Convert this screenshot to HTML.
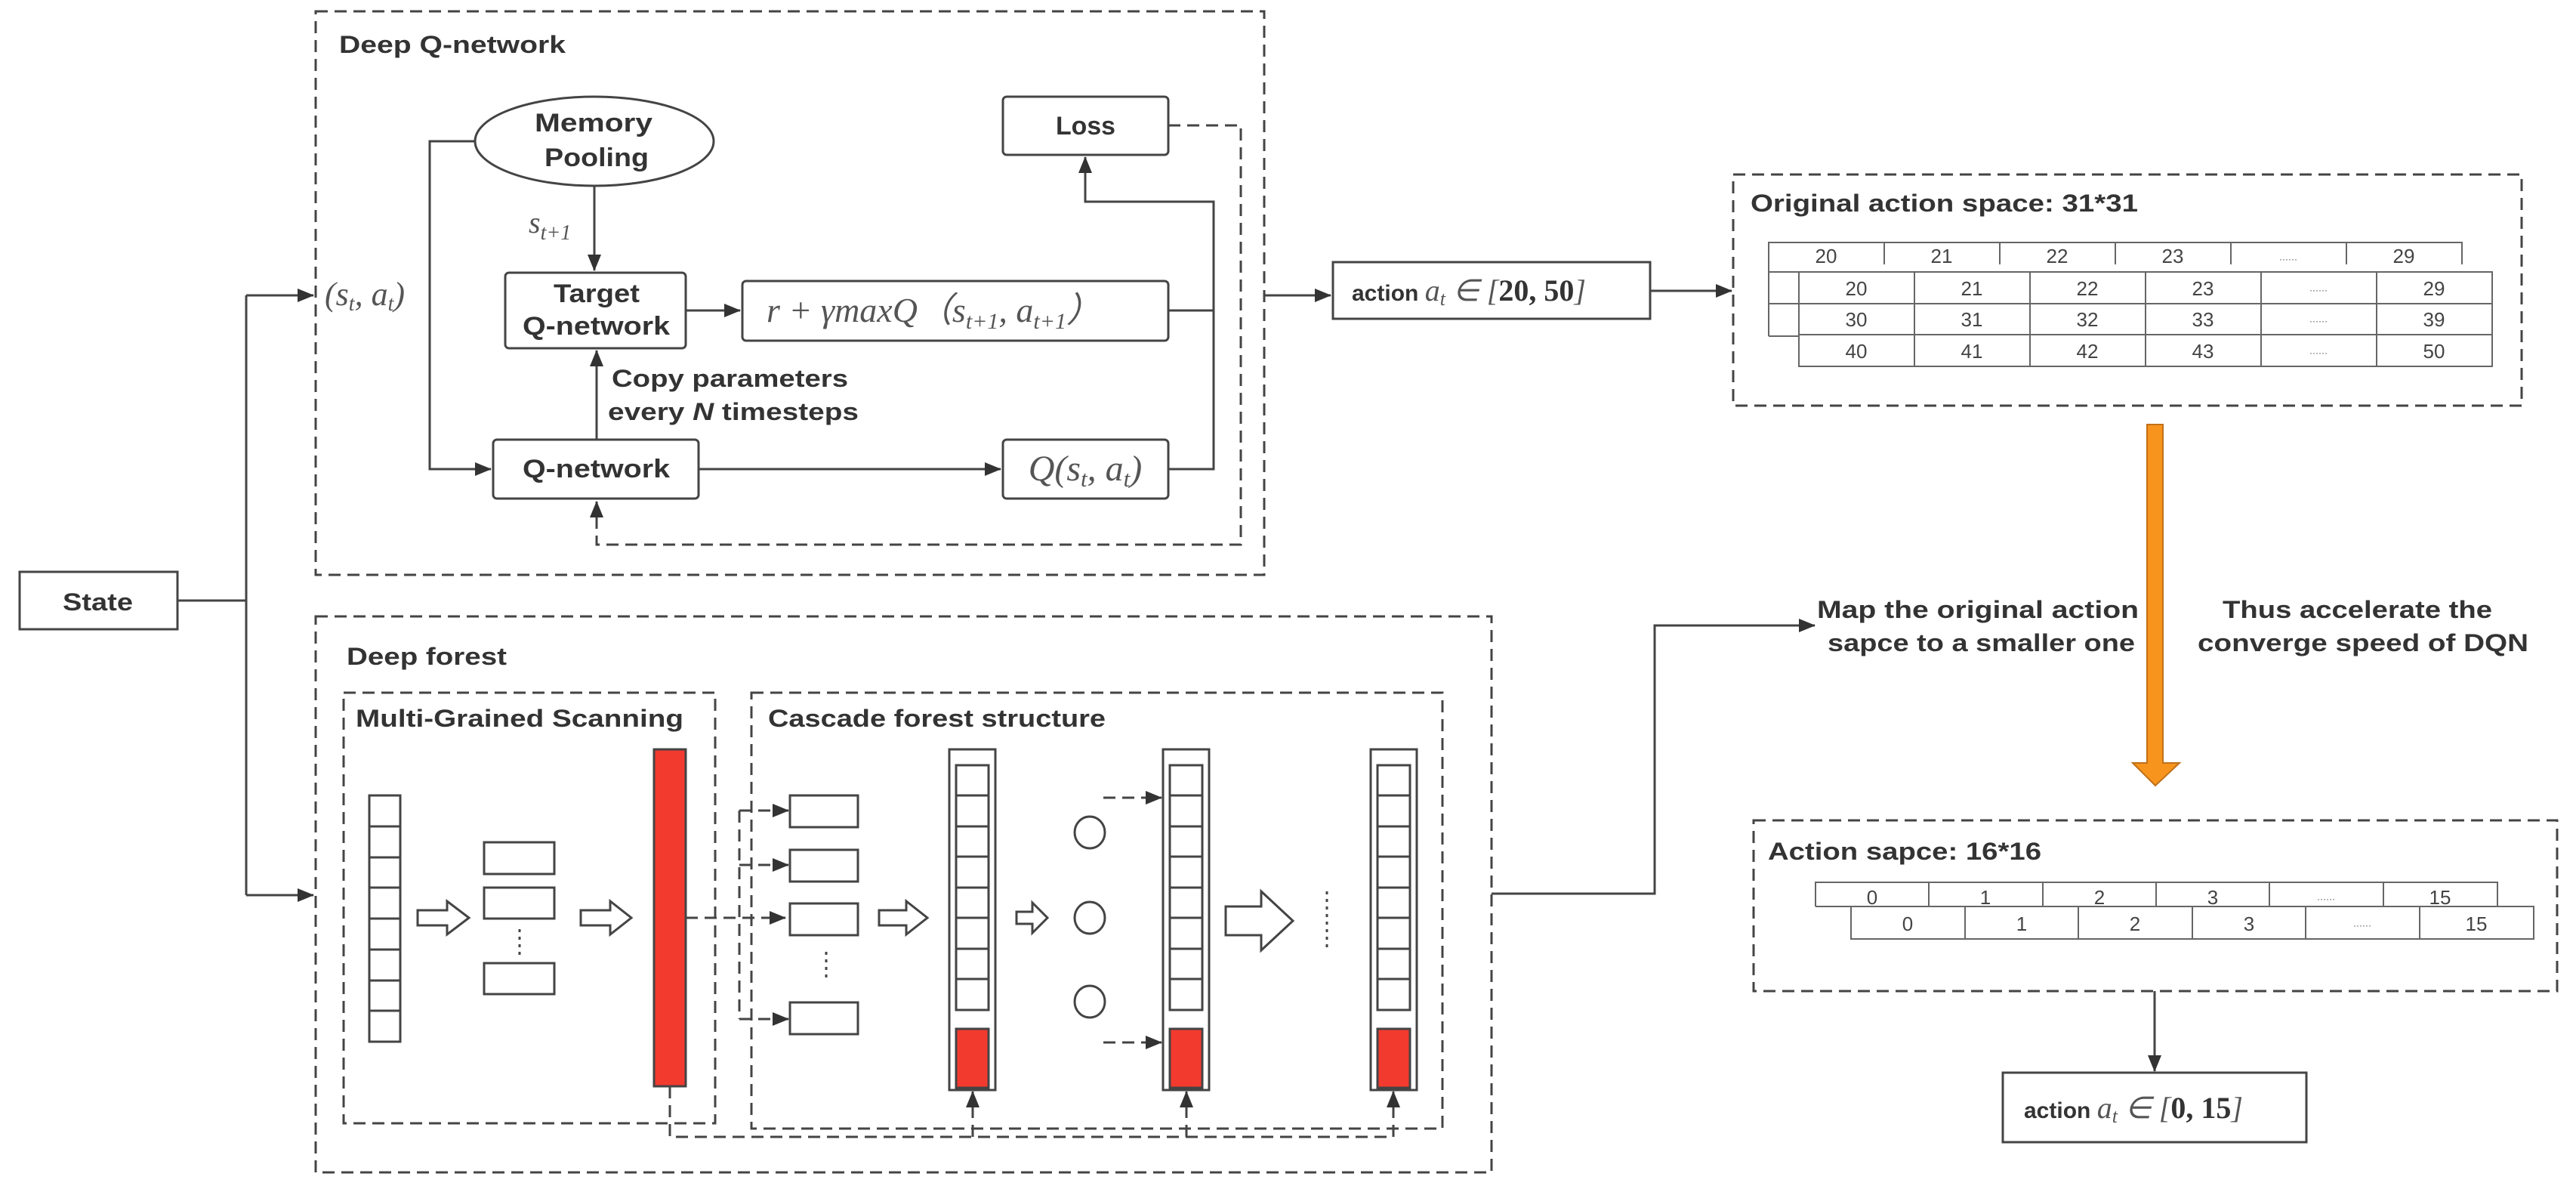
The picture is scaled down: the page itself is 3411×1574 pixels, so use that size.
<!DOCTYPE html>
<html><head><meta charset="utf-8"><style>
html,body{margin:0;padding:0;background:#fff;}
svg{display:block;}
.t{font-family:"Liberation Sans",sans-serif;font-weight:bold;fill:#333;}
.m{font-family:"Liberation Serif",serif;font-style:italic;fill:#555;}
.n{font-family:"Liberation Sans",sans-serif;fill:#444;font-size:26px;text-anchor:middle;}
</style></head><body>
<svg width="3411" height="1574" viewBox="0 0 3411 1574" xmlns="http://www.w3.org/2000/svg">
<defs>
<marker id="A" markerWidth="22" markerHeight="22" refX="21" refY="11" orient="auto" markerUnits="userSpaceOnUse" viewBox="0 0 22 22"><path d="M0,2 L22,11 L0,20 z" fill="#333"/></marker>
</defs>
<g fill="none" stroke="#444" stroke-width="3">
<g stroke-dasharray="16,9">
<rect x="418" y="15" width="1256" height="746"/>
<rect x="418" y="816" width="1557" height="736"/>
<rect x="455" y="917" width="492" height="570"/>
<rect x="995" y="917" width="915" height="577"/>
<rect x="2295" y="231" width="1044" height="306"/>
<rect x="2322" y="1086" width="1064" height="226"/>
<path d="M1547,166 H1643 V721 H790 V664" marker-end="url(#A)"/>
<path d="M887,1438 V1505 H1845"/>
<path d="M908,1215 H1040" marker-end="url(#A)"/>
<path d="M979,1073 V1349"/>
<path d="M979,1073 H1044" marker-end="url(#A)"/>
<path d="M979,1145 H1044" marker-end="url(#A)"/>
<path d="M979,1349 H1044" marker-end="url(#A)"/>
<path d="M1461,1056 H1538" marker-end="url(#A)"/>
<path d="M1461,1380 H1538" marker-end="url(#A)"/>
<path d="M1288,1505 V1445" marker-end="url(#A)"/>
<path d="M1571,1505 V1445" marker-end="url(#A)"/>
<path d="M1845,1505 V1445" marker-end="url(#A)"/>
</g>
<rect x="26" y="757" width="209" height="76"/>
<path d="M235,795 H326 M326,391 V1185"/>
<path d="M326,391 H415" marker-end="url(#A)"/>
<path d="M326,1185 H415" marker-end="url(#A)"/>
<ellipse cx="787" cy="187" rx="158" ry="59"/>
<rect x="1328" y="128" width="219" height="77" rx="5"/>
<rect x="669" y="361" width="239" height="100" rx="5"/>
<rect x="983" y="372" width="564" height="79" rx="5"/>
<rect x="653" y="582" width="272" height="78" rx="5"/>
<rect x="1328" y="582" width="219" height="78" rx="5"/>
<path d="M787,246 V358" marker-end="url(#A)"/>
<path d="M629,187 H569 V621 H650" marker-end="url(#A)"/>
<path d="M908,411 H980" marker-end="url(#A)"/>
<path d="M790,582 V464" marker-end="url(#A)"/>
<path d="M925,621 H1325" marker-end="url(#A)"/>
<path d="M1547,621 H1607 V267 H1437 V208" marker-end="url(#A)"/>
<path d="M1547,411 H1607"/>
<path d="M1674,391 H1762" marker-end="url(#A)"/>
<rect x="1765" y="347" width="420" height="75"/>
<path d="M2185,385 H2293" marker-end="url(#A)"/>
<rect x="489" y="1053" width="41" height="326"/>
<path d="M489,1094 H530 M489,1135 H530 M489,1175 H530 M489,1216 H530 M489,1257 H530 M489,1298 H530 M489,1338 H530"/>
<rect x="641" y="1115" width="93" height="42"/>
<rect x="641" y="1175" width="93" height="41"/>
<rect x="641" y="1275" width="93" height="41"/>
<rect x="866" y="992" width="42" height="446" fill="#f33a2f"/>
<rect x="1046" y="1053" width="90" height="42"/>
<rect x="1046" y="1125" width="90" height="42"/>
<rect x="1046" y="1196" width="90" height="42"/>
<rect x="1046" y="1327" width="90" height="42"/>
<ellipse cx="1443" cy="1102" rx="20" ry="21"/>
<ellipse cx="1443" cy="1215" rx="20" ry="21"/>
<ellipse cx="1443" cy="1326" rx="20" ry="21"/>
<g stroke-dasharray="4,6">
<path d="M688,1230 V1265 M1094,1260 V1300 M1757,1180 V1255"/>
</g>
<path d="M553,1205 H592 V1193 L621,1215 L592,1237 V1225 H553 Z"/>
<path d="M769,1205 H808 V1193 L836,1215 L808,1237 V1225 H769 Z"/>
<path d="M1164,1205 H1200 V1193 L1228,1215 L1200,1237 V1225 H1164 Z"/>
<path d="M1346,1207 H1367 V1195 L1387,1215 L1367,1235 V1223 H1346 Z"/>
<path d="M1623,1200 H1670 V1180 L1712,1219 L1670,1258 V1238 H1623 Z"/>
<g id="col">
<rect x="1257" y="992" width="61" height="451"/>
<rect x="1266" y="1013" width="43" height="324"/>
<path d="M1266,1053 H1309 M1266,1094 H1309 M1266,1134 H1309 M1266,1175 H1309 M1266,1215 H1309 M1266,1256 H1309 M1266,1296 H1309"/>
<rect x="1266" y="1362" width="43" height="78" fill="#f33a2f"/>
</g>
<use href="#col" x="283"/>
<use href="#col" x="558"/>
<path d="M1975,1183 H2191 V828 H2403" marker-end="url(#A)"/>
<g stroke-width="2" stroke="#666">
<path d="M2342,350 V321 H3260 V350 M2495,321 V350 M2648,321 V350 M2801,321 V350 M2954,321 V350 M3107,321 V350"/>
<path d="M2342,350 V445 M2342,360 H2382 M2342,402 H2382 M2342,445 H2382"/>
<rect x="2382" y="360" width="918" height="125" fill="#fff"/>
<path d="M2382,402 H3300 M2382,443 H3300 M2535,360 V485 M2688,360 V485 M2841,360 V485 M2994,360 V485 M3147,360 V485"/>
<path d="M2404,1200 V1168 H3307 V1200 M2554,1168 V1200 M2705,1168 V1200 M2855,1168 V1200 M3005,1168 V1200 M3156,1168 V1200 M2404,1200 H2451"/>
<rect x="2451" y="1200" width="904" height="43" fill="#fff"/>
<path d="M2602,1200 V1243 M2752,1200 V1243 M2903,1200 V1243 M3053,1200 V1243 M3204,1200 V1243"/>
</g>
<path d="M2843,562 H2864 V1010 H2886 L2854,1040 L2824,1010 H2843 Z" fill="#f7941d" stroke="#c0701a" stroke-width="2"/>
<path d="M2853,1312 V1418" marker-end="url(#A)"/>
<rect x="2652" y="1420" width="402" height="92"/>
</g>
<text class="t" x="83" y="808" font-size="32" textLength="93" lengthAdjust="spacingAndGlyphs">State</text>
<text class="t" x="449" y="70" font-size="32" textLength="300" lengthAdjust="spacingAndGlyphs">Deep Q-network</text>
<text class="t" x="708" y="174" font-size="34" textLength="156" lengthAdjust="spacingAndGlyphs">Memory</text>
<text class="t" x="721" y="220" font-size="34" textLength="138" lengthAdjust="spacingAndGlyphs">Pooling</text>
<text class="t" x="1398" y="178" font-size="34" textLength="79" lengthAdjust="spacingAndGlyphs">Loss</text>
<text class="t" x="733" y="400" font-size="34" textLength="114" lengthAdjust="spacingAndGlyphs">Target</text>
<text class="t" x="692" y="443" font-size="34" textLength="195" lengthAdjust="spacingAndGlyphs">Q-network</text>
<text class="t" x="692" y="632" font-size="34" textLength="195" lengthAdjust="spacingAndGlyphs">Q-network</text>
<text class="t" x="810" y="512" font-size="32" textLength="313" lengthAdjust="spacingAndGlyphs">Copy parameters</text>
<text class="t" x="805" y="556" font-size="32" textLength="332" lengthAdjust="spacingAndGlyphs">every <tspan font-style="italic">N</tspan> timesteps</text>
<text class="m" x="700" y="308" font-size="40">s<tspan font-size="28" dy="9">t+1</tspan></text>
<text class="m" x="430" y="404" font-size="44">(s<tspan font-size="28" dy="7">t</tspan><tspan dy="-7">, a</tspan><tspan font-size="28" dy="7">t</tspan><tspan dy="-7">)</tspan></text>
<text class="m" x="1015" y="426" font-size="46">r + γmaxQ（s<tspan font-size="30" dy="9">t+1</tspan><tspan dy="-9">, a</tspan><tspan font-size="30" dy="9">t+1</tspan><tspan dy="-9">）</tspan></text>
<text class="m" x="1437" y="636" font-size="48" text-anchor="middle">Q(s<tspan font-size="31" dy="8">t</tspan><tspan dy="-8">, a</tspan><tspan font-size="31" dy="8">t</tspan><tspan dy="-8">)</tspan></text>
<text class="t" x="1790" y="398" font-size="30">action <tspan class="m" font-weight="normal" font-size="40">a<tspan font-size="26" dy="6">t</tspan><tspan dy="-6"> ∈ [</tspan></tspan><tspan font-family="Liberation Serif" font-size="40">20, 50</tspan><tspan class="m" font-weight="normal" font-size="40">]</tspan></text>
<text class="t" x="459" y="880" font-size="32" textLength="212" lengthAdjust="spacingAndGlyphs">Deep forest</text>
<text class="t" x="471" y="962" font-size="32" textLength="434" lengthAdjust="spacingAndGlyphs">Multi-Grained Scanning</text>
<text class="t" x="1017" y="962" font-size="32" textLength="447" lengthAdjust="spacingAndGlyphs">Cascade forest structure</text>
<text class="t" x="2318" y="280" font-size="32" textLength="513" lengthAdjust="spacingAndGlyphs">Original action space: 31*31</text>
<text class="t" x="2341" y="1138" font-size="32" textLength="362" lengthAdjust="spacingAndGlyphs">Action sapce: 16*16</text>
<text class="t" x="2406" y="818" font-size="32" textLength="426" lengthAdjust="spacingAndGlyphs">Map the original action</text>
<text class="t" x="2420" y="862" font-size="32" textLength="407" lengthAdjust="spacingAndGlyphs">sapce to a smaller one</text>
<text class="t" x="2943" y="818" font-size="32" textLength="357" lengthAdjust="spacingAndGlyphs">Thus accelerate the</text>
<text class="t" x="2910" y="862" font-size="32" textLength="438" lengthAdjust="spacingAndGlyphs">converge speed of DQN</text>
<text class="t" x="2680" y="1480" font-size="30">action <tspan class="m" font-weight="normal" font-size="40">a<tspan font-size="26" dy="6">t</tspan><tspan dy="-6"> ∈ [</tspan></tspan><tspan font-family="Liberation Serif" font-size="40">0, 15</tspan><tspan class="m" font-weight="normal" font-size="40">]</tspan></text>
<g class="n">
<text x="2418" y="348">20</text><text x="2571" y="348">21</text><text x="2724" y="348">22</text><text x="2877" y="348">23</text><text x="3030" y="347" font-size="12">······</text><text x="3183" y="348">29</text>
<text x="2458" y="391">20</text><text x="2611" y="391">21</text><text x="2764" y="391">22</text><text x="2917" y="391">23</text><text x="3070" y="388" font-size="12">······</text><text x="3223" y="391">29</text>
<text x="2458" y="432">30</text><text x="2611" y="432">31</text><text x="2764" y="432">32</text><text x="2917" y="432">33</text><text x="3070" y="429" font-size="12">······</text><text x="3223" y="432">39</text>
<text x="2458" y="474">40</text><text x="2611" y="474">41</text><text x="2764" y="474">42</text><text x="2917" y="474">43</text><text x="3070" y="471" font-size="12">······</text><text x="3223" y="474">50</text>
<text x="2479" y="1197">0</text><text x="2629" y="1197">1</text><text x="2780" y="1197">2</text><text x="2930" y="1197">3</text><text x="3080" y="1194" font-size="12">······</text><text x="3231" y="1197">15</text>
<text x="2526" y="1232">0</text><text x="2677" y="1232">1</text><text x="2827" y="1232">2</text><text x="2978" y="1232">3</text><text x="3128" y="1229" font-size="12">······</text><text x="3279" y="1232">15</text>
</g>
</svg>
</body></html>
